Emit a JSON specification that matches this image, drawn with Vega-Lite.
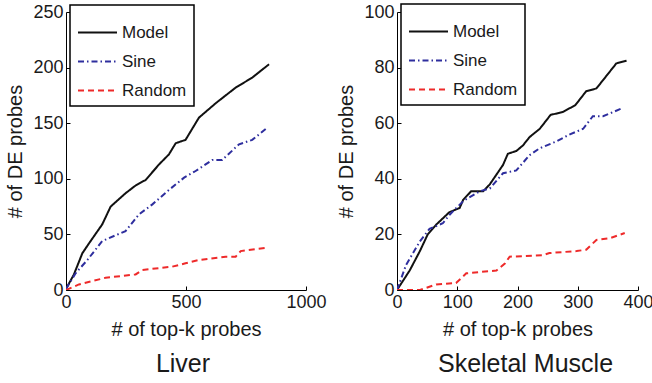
{
  "$schema": "https://vega.github.io/schema/vega-lite/v6.json",
  "padding": {"left": 5, "top": 3, "right": 5, "bottom": 2},
  "config": {
    "font": "Liberation Sans",
    "view": {"stroke": null},
    "axis": {
      "grid": false,
      "domainColor": "#000000",
      "tickColor": "#000000",
      "tickSize": -4,
      "labelFontSize": 18,
      "titleFontSize": 20,
      "labelColor": "#1a1a1a",
      "titleColor": "#1a1a1a",
      "titleFontWeight": "normal",
      "labelPadding": 7
    },
    "legend": {
      "orient": "none",
      "title": null,
      "strokeColor": "#000000",
      "strokeWidth": 1.5,
      "fillColor": "#ffffff",
      "padding": 7,
      "labelFontSize": 17,
      "labelColor": "#1a1a1a",
      "symbolType": "stroke",
      "symbolSize": 1521,
      "symbolStrokeWidth": 2,
      "rowPadding": -2,
      "labelOffset": 4
    },
    "title": {"fontSize": 25, "fontWeight": "normal", "color": "#1a1a1a", "orient": "bottom", "offset": 13}
  },
  "data": {"values": [
    {"p":"L","m":"Model","k":0,"v":1},{"p":"L","m":"Model","k":33,"v":14},{"p":"L","m":"Model","k":68,"v":33},{"p":"L","m":"Model","k":96,"v":42},{"p":"L","m":"Model","k":151,"v":59},{"p":"L","m":"Model","k":186,"v":75},{"p":"L","m":"Model","k":248,"v":87},{"p":"L","m":"Model","k":290,"v":94},{"p":"L","m":"Model","k":332,"v":99},{"p":"L","m":"Model","k":388,"v":113},{"p":"L","m":"Model","k":429,"v":122},{"p":"L","m":"Model","k":457,"v":132},{"p":"L","m":"Model","k":498,"v":135},{"p":"L","m":"Model","k":554,"v":155},{"p":"L","m":"Model","k":624,"v":168},{"p":"L","m":"Model","k":707,"v":182},{"p":"L","m":"Model","k":776,"v":191},{"p":"L","m":"Model","k":846,"v":203},
    {"p":"L","m":"Sine","k":0,"v":1},{"p":"L","m":"Sine","k":40,"v":15},{"p":"L","m":"Sine","k":89,"v":27},{"p":"L","m":"Sine","k":151,"v":44},{"p":"L","m":"Sine","k":248,"v":53},{"p":"L","m":"Sine","k":304,"v":68},{"p":"L","m":"Sine","k":360,"v":77},{"p":"L","m":"Sine","k":429,"v":90},{"p":"L","m":"Sine","k":492,"v":101},{"p":"L","m":"Sine","k":540,"v":107},{"p":"L","m":"Sine","k":610,"v":117},{"p":"L","m":"Sine","k":651,"v":117},{"p":"L","m":"Sine","k":721,"v":131},{"p":"L","m":"Sine","k":776,"v":135},{"p":"L","m":"Sine","k":839,"v":146},
    {"p":"L","m":"Random","k":0,"v":0},{"p":"L","m":"Random","k":54,"v":5},{"p":"L","m":"Random","k":165,"v":11},{"p":"L","m":"Random","k":290,"v":14},{"p":"L","m":"Random","k":318,"v":18},{"p":"L","m":"Random","k":443,"v":21},{"p":"L","m":"Random","k":498,"v":24},{"p":"L","m":"Random","k":554,"v":27},{"p":"L","m":"Random","k":665,"v":30},{"p":"L","m":"Random","k":707,"v":30},{"p":"L","m":"Random","k":728,"v":35},{"p":"L","m":"Random","k":839,"v":38},
    {"p":"S","m":"Model","k":0,"v":0},{"p":"S","m":"Model","k":21,"v":7},{"p":"S","m":"Model","k":38,"v":14},{"p":"S","m":"Model","k":51,"v":20},{"p":"S","m":"Model","k":65,"v":23.5},{"p":"S","m":"Model","k":87,"v":28},{"p":"S","m":"Model","k":104,"v":29.5},{"p":"S","m":"Model","k":110,"v":32.5},{"p":"S","m":"Model","k":123,"v":35.5},{"p":"S","m":"Model","k":143,"v":35.5},{"p":"S","m":"Model","k":154,"v":38},{"p":"S","m":"Model","k":176,"v":45},{"p":"S","m":"Model","k":184,"v":49},{"p":"S","m":"Model","k":198,"v":50},{"p":"S","m":"Model","k":209,"v":52},{"p":"S","m":"Model","k":220,"v":55},{"p":"S","m":"Model","k":237,"v":58},{"p":"S","m":"Model","k":255,"v":63},{"p":"S","m":"Model","k":275,"v":64},{"p":"S","m":"Model","k":296,"v":66.5},{"p":"S","m":"Model","k":314,"v":71.5},{"p":"S","m":"Model","k":331,"v":72.5},{"p":"S","m":"Model","k":342,"v":75.5},{"p":"S","m":"Model","k":364,"v":81.5},{"p":"S","m":"Model","k":381,"v":82.5},
    {"p":"S","m":"Sine","k":0,"v":0},{"p":"S","m":"Sine","k":15,"v":9},{"p":"S","m":"Sine","k":38,"v":17.5},{"p":"S","m":"Sine","k":54,"v":22},{"p":"S","m":"Sine","k":76,"v":24},{"p":"S","m":"Sine","k":87,"v":27},{"p":"S","m":"Sine","k":110,"v":32},{"p":"S","m":"Sine","k":137,"v":35.5},{"p":"S","m":"Sine","k":154,"v":36.5},{"p":"S","m":"Sine","k":176,"v":42},{"p":"S","m":"Sine","k":198,"v":43},{"p":"S","m":"Sine","k":220,"v":48.5},{"p":"S","m":"Sine","k":237,"v":51},{"p":"S","m":"Sine","k":265,"v":53.5},{"p":"S","m":"Sine","k":287,"v":56},{"p":"S","m":"Sine","k":309,"v":58},{"p":"S","m":"Sine","k":325,"v":62.5},{"p":"S","m":"Sine","k":342,"v":62.5},{"p":"S","m":"Sine","k":375,"v":65.5},
    {"p":"S","m":"Random","k":0,"v":0},{"p":"S","m":"Random","k":38,"v":0},{"p":"S","m":"Random","k":65,"v":2},{"p":"S","m":"Random","k":98,"v":2.5},{"p":"S","m":"Random","k":115,"v":6},{"p":"S","m":"Random","k":165,"v":7},{"p":"S","m":"Random","k":179,"v":9.5},{"p":"S","m":"Random","k":187,"v":12},{"p":"S","m":"Random","k":242,"v":12.5},{"p":"S","m":"Random","k":253,"v":13.3},{"p":"S","m":"Random","k":298,"v":14},{"p":"S","m":"Random","k":314,"v":14.5},{"p":"S","m":"Random","k":331,"v":18},{"p":"S","m":"Random","k":353,"v":18.6},{"p":"S","m":"Random","k":378,"v":20.5}
  ]},
  "spacing": 9,
  "resolve": {"scale": {"x": "independent", "y": "independent"}, "legend": {"color": "independent", "strokeDash": "independent"}},
  "hconcat": [
    {
      "width": 240, "height": 278,
      "title": {"text": "Liver", "dx": -3},
      "transform": [{"filter": "datum.p === 'L'"}],
      "mark": {"type": "line", "strokeWidth": 2, "clip": true},
      "encoding": {
        "x": {"field": "k", "type": "quantitative", "title": "# of top-k probes", "scale": {"domain": [0, 1000], "nice": false}, "axis": {"values": [0, 500, 1000], "labelExpr": "'' + datum.value", "labelFlush": false, "titlePadding": 8}},
        "y": {"field": "v", "type": "quantitative", "title": "# of DE probes", "scale": {"domain": [0, 250], "nice": false}, "axis": {"values": [0, 50, 100, 150, 200, 250], "titlePadding": 7}},
        "color": {"field": "m", "type": "nominal", "scale": {"domain": ["Model", "Sine", "Random"], "range": ["#111111", "#2e2e9e", "#ee2a2a"]}, "legend": {"legendX": 4, "legendY": -7}},
        "strokeDash": {"field": "m", "type": "nominal", "scale": {"domain": ["Model", "Sine", "Random"], "range": [[1, 0], [6, 3, 1.5, 3], [6, 4]]}, "legend": {"legendX": 4, "legendY": -7}},
        "order": {"field": "k", "type": "quantitative"}
      }
    },
    {
      "width": 241, "height": 278,
      "title": {"text": "Skeletal Muscle", "dx": 8},
      "transform": [{"filter": "datum.p === 'S'"}],
      "mark": {"type": "line", "strokeWidth": 2, "clip": true},
      "encoding": {
        "x": {"field": "k", "type": "quantitative", "title": "# of top-k probes", "scale": {"domain": [0, 400], "nice": false}, "axis": {"values": [0, 100, 200, 300, 400], "labelFlush": false, "titlePadding": 8}},
        "y": {"field": "v", "type": "quantitative", "title": "# of DE probes", "scale": {"domain": [0, 100], "nice": false}, "axis": {"values": [0, 20, 40, 60, 80, 100], "titlePadding": 7}},
        "color": {"field": "m", "type": "nominal", "scale": {"domain": ["Model", "Sine", "Random"], "range": ["#111111", "#2e2e9e", "#ee2a2a"]}, "legend": {"legendX": 4, "legendY": -8}},
        "strokeDash": {"field": "m", "type": "nominal", "scale": {"domain": ["Model", "Sine", "Random"], "range": [[1, 0], [6, 3, 1.5, 3], [6, 4]]}, "legend": {"legendX": 4, "legendY": -8}},
        "order": {"field": "k", "type": "quantitative"}
      }
    }
  ]
}
